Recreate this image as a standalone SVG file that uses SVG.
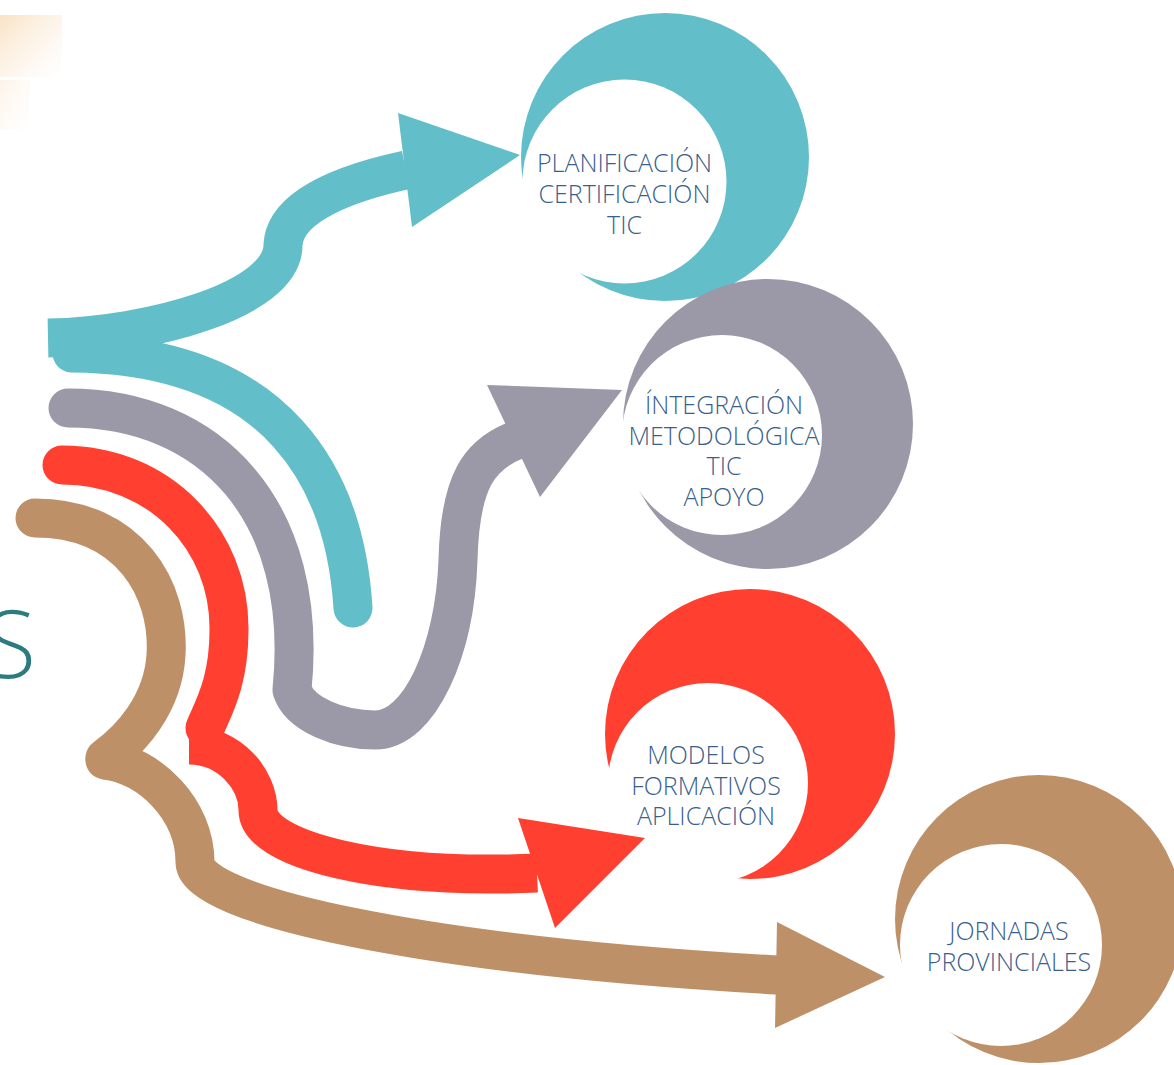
<svg xmlns="http://www.w3.org/2000/svg" width="1174" height="1065" viewBox="0 0 1174 1065">
<defs>
<linearGradient id="peach" x1="0" y1="0" x2="1" y2="1">
<stop offset="0" stop-color="#F7D9B0" stop-opacity="0.75"/>
<stop offset="1" stop-color="#FBEBDD" stop-opacity="0"/>
</linearGradient>
<style>
.flow{fill:none;stroke-width:39;stroke-linecap:round;stroke-linejoin:round}
.butt{stroke-linecap:butt}
.lbl{font-family:"Open Sans","Liberation Sans",sans-serif;font-weight:300;font-size:25px;fill:#3A5F8C;text-anchor:middle}
.teal{stroke:#62BEC8}.gray{stroke:#9B98A8}.red{stroke:#FF4030}.tan{stroke:#BE9068}
</style>
</defs>
<rect width="1174" height="1065" fill="#FFFFFF"/>
<rect x="0" y="15" width="62" height="62" fill="url(#peach)"/>
<rect x="0" y="80" width="30" height="50" fill="url(#peach)" opacity="0.4"/>
<text x="36" y="678" font-family="'Open Sans','Liberation Sans',sans-serif" font-weight="300" font-size="94" fill="#2B7B80" text-anchor="end">S</text>

<g id="node-planificacion">
<circle cx="665" cy="157" r="144" fill="#62BEC8"/>
<circle cx="624.5" cy="181.5" r="102" fill="#FFFFFF"/>
</g>
<g id="node-integracion">
<circle cx="768" cy="424" r="145" fill="#9B98A8"/>
<circle cx="722" cy="435" r="100" fill="#FFFFFF"/>
</g>
<g id="node-modelos">
<circle cx="750" cy="734" r="145" fill="#FF4030"/>
<circle cx="708" cy="783" r="100" fill="#FFFFFF"/>
</g>
<g id="node-jornadas">
<circle cx="1039" cy="919" r="144" fill="#BE9068"/>
<circle cx="1001" cy="945" r="101" fill="#FFFFFF"/>
</g>

<g id="connectors">
<path class="flow teal" d="M72,353 C280,355 345,480 353,608"/>
<path class="flow teal butt" d="M48,338 C150,336 283,300 283,245 C285,205 350,182 406,170"/>
<polygon fill="#62BEC8" points="398,113 520,155 412,227"/>

<path class="flow gray" d="M68,408 C210,408 310,510 292,690 C300,715 340,730 375,730 C420,730 455,650 458,560 C460,480 480,455 514,441"/>
<polygon fill="#9B98A8" points="487,385 622,390 540,497"/>

<path class="flow red" d="M62,465 C160,465 230,540 229,630 C229,680 215,705 205,728"/>
<path class="flow red butt" d="M189,745 C230,745 258,780 258,810 C258,850 380,880 537,873"/>
<polygon fill="#FF4030" points="518,818 645,838 555,928"/>

<path class="flow tan" d="M35,518 C130,518 170,590 166,655 C163,705 130,740 105,758"/>
<path class="flow tan" d="M105,760 C150,765 195,810 195,862 C195,905 420,955 777,975"/>
<polygon fill="#BE9068" points="777,922 885,977 775,1028"/>
</g>

<g id="labels">
<text class="lbl" x="624.5"><tspan x="624.5" y="172">PLANIFICACIÓN</tspan><tspan x="624.5" y="203">CERTIFICACIÓN</tspan><tspan x="624.5" y="234">TIC</tspan></text>
<text class="lbl" x="724"><tspan x="724" y="414">ÍNTEGRACIÓN</tspan><tspan x="724" y="445">METODOLÓGICA</tspan><tspan x="724" y="475">TIC</tspan><tspan x="724" y="506">APOYO</tspan></text>
<text class="lbl" x="706"><tspan x="706" y="764">MODELOS</tspan><tspan x="706" y="795">FORMATIVOS</tspan><tspan x="706" y="825">APLICACIÓN</tspan></text>
<text class="lbl" x="1009"><tspan x="1009" y="940">JORNADAS</tspan><tspan x="1009" y="971">PROVINCIALES</tspan></text>
</g>
</svg>
